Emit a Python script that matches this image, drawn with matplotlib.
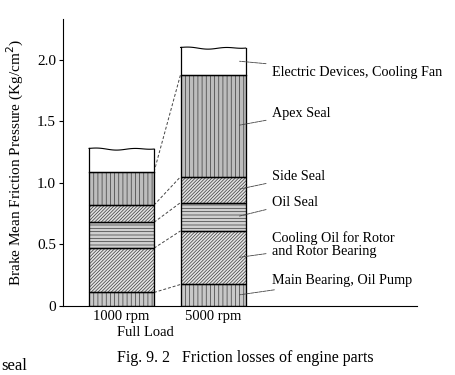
import matplotlib.pyplot as plt
import numpy as np

plt.rcParams['font.family'] = ['Liberation Serif', 'DejaVu Serif']
plt.rcParams['hatch.linewidth'] = 0.5

# data (Kg/cm2), layer heights per speed
speeds = ['1000 rpm', '5000 rpm']
parts = ['Main Bearing, Oil Pump', 'Cooling Oil for Rotor\nand Rotor Bearing',
         'Oil Seal', 'Side Seal', 'Apex Seal', 'Electric Devices, Cooling Fan']
main_bearing = [0.11, 0.175]
cooling_oil = [0.36, 0.435]
oil_seal = [0.21, 0.23]
side_seal = [0.14, 0.21]
apex_seal = [0.27, 0.83]
electric = [0.19, 0.22]

layers = [main_bearing, cooling_oil, oil_seal, side_seal, apex_seal, electric]
hatches = ['||||', '//////////', '-----', '//////////', '||||', '']
faces = ['#c8c8c8', '#e4e4e4', '#d0d0d0', '#e0e0e0', '#bdbdbd', 'white']
label_y = [0.21, 0.50, 0.84, 1.05, 1.56, 1.90]  # where each label text sits

x = np.arange(len(speeds))
w = 0.71

fig = plt.figure(figsize=(4.55, 3.75), dpi=100)
ax = fig.add_axes([0.1385, 0.184, 0.778, 0.765])

bottom = np.zeros(len(speeds))
tops = []
for i, vals in enumerate(layers):
    vals = np.array(vals)
    if hatches[i]:
        ax.bar(x, vals, w, bottom=bottom, color=faces[i], hatch=hatches[i],
               edgecolor='#3a3a3a', linewidth=0.8, zorder=2)
        ax.bar(x, vals, w, bottom=bottom, fill=False, edgecolor='black',
               linewidth=0.9, zorder=3)
    else:
        # white top block with a wavy (broken) upper edge
        for j in range(len(speeds)):
            xs = np.linspace(x[j] - w / 2, x[j] + w / 2, 60)
            wav = 0.006 * np.sin((xs - xs[0]) * 16) - 0.008 * np.sin((xs - xs[0]) * 4.5)
            ytop = bottom[j] + vals[j] + wav
            ax.fill_between(xs, bottom[j], ytop, color='white', zorder=2)
            ax.plot(xs, ytop, color='black', lw=0.8, zorder=3)
            ax.plot([xs[0], xs[0]], [bottom[j], ytop[0]], color='black', lw=0.9, zorder=3)
            ax.plot([xs[-1], xs[-1]], [bottom[j], ytop[-1]], color='black', lw=0.9, zorder=3)
            ax.plot([xs[0], xs[-1]], [bottom[j], bottom[j]], color='black', lw=0.9, zorder=3)
    bottom = bottom + vals
    tops.append(bottom.copy())

# dashed connectors between the two bars
for t in tops[:-1]:
    ax.plot([x[0] + w / 2, x[1] - w / 2], [t[0], t[1]], ls=(0, (3, 2)),
            color='#444444', lw=0.7, zorder=1)

# leader labels on the right of the 5000 rpm bar
prev = 0
for i, name in enumerate(parts):
    mid = prev + layers[i][1] / 2
    prev += layers[i][1]
    ax.annotate(name, xy=(x[1] + 0.26, mid), xytext=(x[1] + 0.64, label_y[i]),
                fontsize=10.2, va='center', ha='left', linespacing=1.05,
                arrowprops=dict(arrowstyle='-', color='#444444', lw=0.6, ls=(0, (4, 1))))

ax.set_xlim(-0.64, 3.23)
ax.set_ylim(0, 2.33)
ax.set_yticks([0, 0.5, 1.0, 1.5, 2.0])
ax.set_yticklabels(['0', '0.5', '1.0', '1.5', '2.0'], fontsize=11)
ax.set_xticks(x)
ax.set_xticklabels(speeds, fontsize=10.5)
ax.tick_params(axis='x', length=0, pad=3)
ax.tick_params(axis='y', length=3, width=0.8, pad=2)
ax.spines['top'].set_visible(False)
ax.spines['right'].set_visible(False)
ax.spines['left'].set_linewidth(0.8)
ax.spines['bottom'].set_linewidth(0.8)
ax.set_ylabel('Brake Mean Friction Pressure (Kg/cm$^2$)', fontsize=11, labelpad=8)

fig.text(145 / 455, 1 - 332 / 375, 'Full Load', ha='center', va='center', fontsize=10.5)
fig.text(245 / 455, 1 - 358 / 375, 'Fig. 9. 2   Friction losses of engine parts',
         ha='center', va='center', fontsize=11.5)
fig.text(0.002, 1 - 366 / 375, 'seal', ha='left', va='center', fontsize=12)

fig.savefig('out.png', dpi=100)
